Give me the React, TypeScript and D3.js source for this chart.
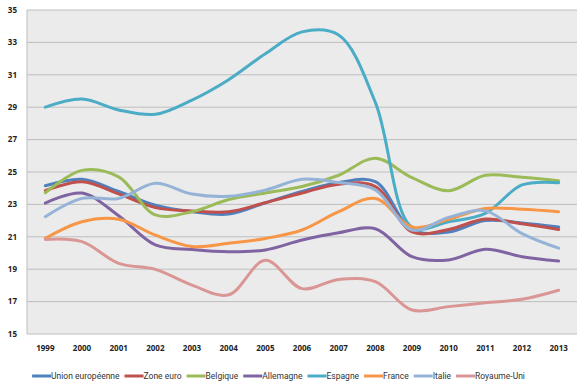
import * as d3 from "d3";

const years = ["1999","2000","2001","2002","2003","2004","2005","2006","2007","2008","2009","2010","2011","2012","2013"];
const seriesNames = ["Union européenne","Zone euro","Belgique","Allemagne","Espagne","France","Italie","Royaume-Uni"];
const colors = ["#4F81BD","#C0504D","#9BBB59","#8064A2","#4BACC6","#F79646","#95B3D7","#DA9694"];

const unionEuropeenne = [24.15, 24.55, 23.8, 22.95, 22.55, 22.4, 23.1, 23.8, 24.35, 24.4, 21.45, 21.3, 22.0, 21.85, 21.6];
const zoneEuro = [23.85, 24.4, 23.65, 22.8, 22.6, 22.55, 23.1, 23.7, 24.25, 24.1, 21.3, 21.45, 22.1, 21.8, 21.45];
const belgique = [23.72, 25.1, 24.7, 22.35, 22.55, 23.3, 23.7, 24.1, 24.8, 25.85, 24.65, 23.85, 24.8, 24.67, 24.46];
const allemagne = [23.08, 23.7, 22.3, 20.5, 20.22, 20.08, 20.19, 20.8, 21.25, 21.5, 19.77, 19.57, 20.23, 19.77, 19.5];
const espagne = [29.0, 29.5, 28.83, 28.56, 29.44, 30.7, 32.3, 33.65, 33.45, 29.3, 21.6, 21.93, 22.45, 24.2, 24.34];
const france = [20.9, 21.93, 22.08, 21.1, 20.4, 20.6, 20.9, 21.42, 22.55, 23.37, 21.6, 22.08, 22.75, 22.7, 22.55];
const italie = [22.24, 23.37, 23.37, 24.3, 23.64, 23.5, 23.88, 24.55, 24.35, 23.9, 21.42, 22.2, 22.6, 21.2, 20.3];
const royaumeUni = [20.84, 20.7, 19.36, 18.99, 18.02, 17.42, 19.55, 17.8, 18.37, 18.23, 16.48, 16.69, 16.93, 17.14, 17.7];

const series = [unionEuropeenne, zoneEuro, belgique, allemagne, espagne, france, italie, royaumeUni];
const yTicks = [15, 17, 19, 21, 23, 25, 27, 29, 31, 33, 35];

const width = 585;
const height = 390;
const plotLeft = 27;
const plotRight = 577;
const plotTop = 10;
const plotBottom = 334;

function measure(text: string, font: string) {
    const ctx = document.createElement("canvas").getContext("2d");
    if (!ctx) return text.length * 4.5;
    ctx.font = font;
    return ctx.measureText(text).width;
}

export default function App() {
    const x = d3.scalePoint<string>().domain(years).range([plotLeft, plotRight]).padding(0.5);
    const y = d3.scaleLinear().domain([15, 35]).range([plotBottom, plotTop]);
    const line = d3
        .line<number>()
        .x((_d, i) => x(years[i]) as number)
        .y((d) => y(d))
        .curve(d3.curveCatmullRom.alpha(0.5));

    // legend: laid out from measured text so it spans roughly 42..515 like the original
    const legendFont = "8.5px Roboto, sans-serif";
    const swatch = 19;
    const gap = 5;
    const items = seriesNames.map((n) => swatch + measure(n, legendFont) + gap);
    const total = d3.sum(items) - gap;
    let cx = 42 + (473 - total) / 2;
    const legendPos = items.map((w) => {
        const p = cx;
        cx += w;
        return p;
    });

    return (
        <svg width={width} height={height} style={{ position: "absolute", left: 0, top: 0 }}>
            <rect x={0} y={0} width={width} height={height} fill="white" />
            <rect x={plotLeft} y={plotTop} width={plotRight - plotLeft} height={plotBottom - plotTop} fill="#EBEBEB" />
            <g>
                {yTicks.map((t) => (
                    <g key={t}>
                        {t > 15 && (
                            <line x1={plotLeft} x2={plotRight} y1={y(t)} y2={y(t)} stroke="#BEBEBE" strokeWidth={1} />
                        )}
                        <text
                            x={17}
                            y={y(t)}
                            dy="0.35em"
                            textAnchor="end"
                            fontFamily="'Open Sans', sans-serif"
                            fontWeight="bold"
                            fontSize={8}
                            fill="#222"
                        >
                            {t}
                        </text>
                    </g>
                ))}
            </g>
            <line x1={plotLeft} x2={plotLeft} y1={plotTop} y2={plotBottom} stroke="#BEBEBE" />
            <line x1={plotLeft} x2={plotRight} y1={plotBottom} y2={plotBottom} stroke="#BEBEBE" />
            {years.map((yr) => (
                <text
                    key={yr}
                    x={x(yr)}
                    y={351}
                    textAnchor="middle"
                    fontFamily="'Open Sans', sans-serif"
                    fontWeight="bold"
                    fontSize={8}
                    fill="#222"
                >
                    {yr}
                </text>
            ))}
            <g fill="none" strokeWidth={3} strokeLinecap="round" strokeLinejoin="round">
                {series.map((s, i) => (
                    <path key={seriesNames[i]} d={line(s) || ""} stroke={colors[i]} />
                ))}
            </g>
            <g>
                {seriesNames.map((n, i) => (
                    <g key={n} transform={`translate(${legendPos[i]},376)`}>
                        <line x1={0} x2={swatch} y1={0} y2={0} stroke={colors[i]} strokeWidth={3} />
                        <text x={swatch} y={0} dy="0.35em" fontFamily="Roboto, sans-serif" fontSize={8.5} fill="#333">
                            {n}
                        </text>
                    </g>
                ))}
            </g>
        </svg>
    );
}
